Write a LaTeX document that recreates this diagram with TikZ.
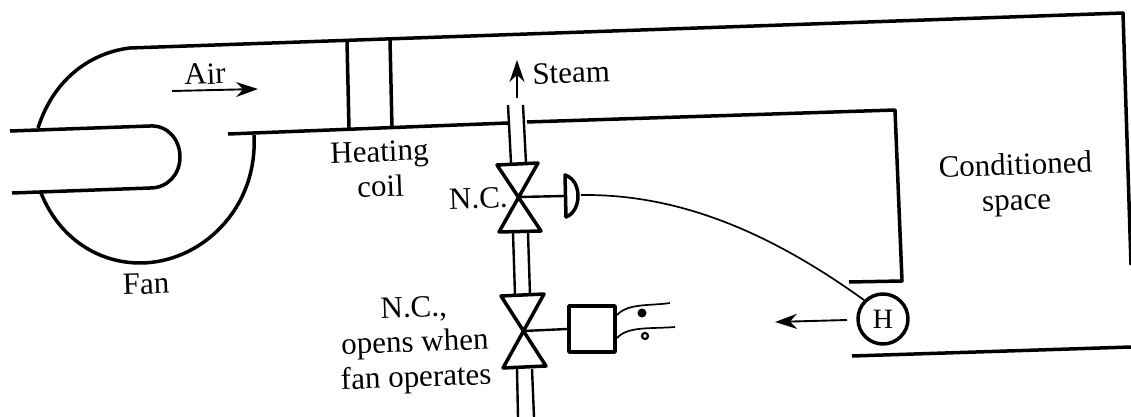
\documentclass[tikz,border=0pt]{standalone}
\usepackage{fontspec}
\setmainfont{Liberation Serif}
\usetikzlibrary{arrows.meta}
\tikzset{
    wall/.style={line width=1.75pt, line join=round},
    thin wall/.style={line width=1.2pt, line join=round},
    flow/.style={-{Stealth[length=11pt, width=7.5pt]}, line width=0.95pt},
    tag/.style={font=\fontsize{15.5pt}{17.5pt}\selectfont, align=center, rotate=2, inner sep=0pt},
}
\begin{document}
\begin{tikzpicture}[x=0.5pt, y=-0.5pt]
    \useasboundingbox (0,0) rectangle (1131,417);

    % Fan
    \draw[wall] (10,131) -- (150,126) .. controls (168,125) and (180,140) .. (180,157) .. controls (180,174) and (168,188) .. (150,188) -- (12,193);
    \draw[wall] (38,128) .. controls (55,75) and (95,52) .. (130,48) -- (1123,13) -- (1131,265);
    \draw[wall] (41,193) .. controls (60,240) and (100,263) .. (140,263) .. controls (200,263) and (258,210) .. (254,135);

    % Duct
    \draw[wall] (228,134) -- (508,123);
    \draw[wall] (527,122) -- (895,110) -- (902,281) -- (849,282);
    \draw[wall] (852,356) -- (1131,347);

    % Heating coil
    \draw[wall] (347,41) -- (349,129);
    \draw[wall] (390,40) -- (392,128);

    % Steam pipe
    \draw[thin wall] (508,105) -- (511,163);
    \draw[thin wall] (523,105) -- (526,163);
    \draw[thin wall] (513,233) -- (515,295);
    \draw[thin wall] (528,233) -- (530,295);
    \draw[thin wall] (517,369) -- (518,417);
    \draw[thin wall] (532,369) -- (534,417);

    % Valves
    \draw[wall] (497,165) -- (538,163) -- (499,232) -- (541,231) -- cycle;
    \draw[wall] (501,296) -- (544,294) -- (503,368) -- (546,366) -- cycle;

    % Actuator on the upper valve
    \coordinate (valve top) at (518,197);
    \coordinate (dome) at (565,196);
    \draw[thin wall] (valve top) -- (dome);
    \draw[wall] (565,175) .. controls (574,178) and (578,187) .. (578,196) .. controls (578,205) and (574,214) .. (566,217) -- cycle;

    % Solenoid on the lower valve
    \node[draw, wall, minimum size=23pt, inner sep=0pt] (solenoid) at (592,329) {};
    \coordinate (valve low) at (523,331);
    \draw[thin wall] (valve low) -- (solenoid.west);
    \draw[line width=0.85pt] (617,315) .. controls (628,303) and (650,306) .. (670,303);
    \draw[line width=0.85pt] (617,338) .. controls (628,326) and (650,329) .. (675,327);
    \fill (642,313) circle (4.5);
    \draw[line width=1.1pt] (645,336) circle (3);

    % Humidistat
    \node[draw, circle, wall, minimum size=25pt, inner sep=0pt, font=\fontsize{14pt}{15pt}\selectfont] (humidistat) at (883,319) {H};
    \coordinate (signal) at (581,195);
    \draw[line width=0.85pt] (signal) .. controls (670,194) and (760,225) .. (humidistat.135);

    % Arrows
    \draw[flow] (172,91) -- (258,89);
    \draw[flow] (517,98) -- (517,60);
    \draw[flow] (847,320) -- (775,322);

    % Labels
    \node[tag] (air) at (205,74) {Air};
    \node[tag, anchor=west] (steam) at (532,74) {Steam};
    \node[tag] (fan) at (146,284) {Fan};
    \node[tag] (coil) at (380,169) {Heating\\coil};
    \node[tag, anchor=east] (nc top) at (508,197) {N.C.};
    \node[tag] (nc low) at (415,345) {N.C.,\\opens when\\fan operates};
    \node[tag] (space) at (1016,185) {Conditioned\\space};
\end{tikzpicture}
\end{document}
